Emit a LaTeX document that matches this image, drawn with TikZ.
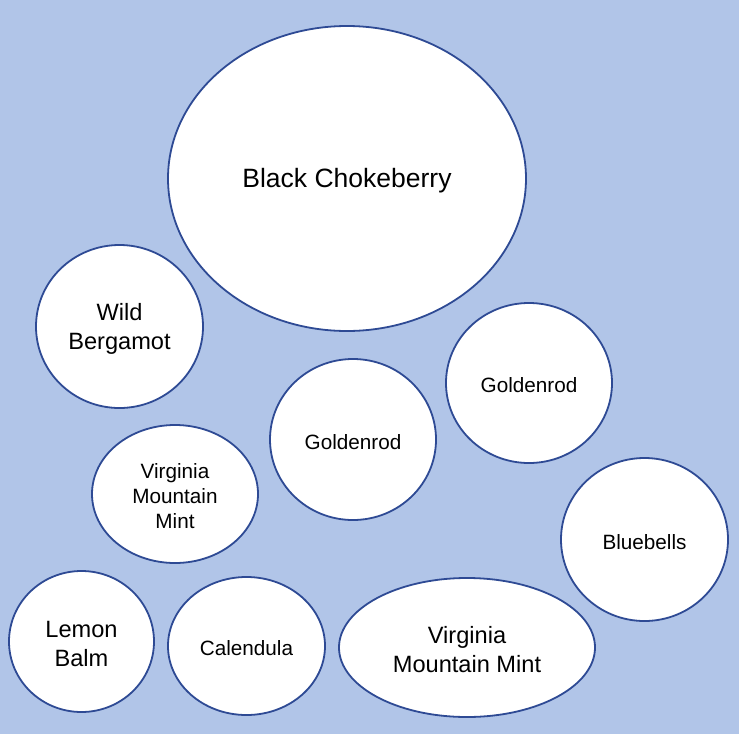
\documentclass[tikz,border=0pt]{standalone}
\usepackage{fontspec}
\setmainfont{Liberation Sans}
\usetikzlibrary{shapes.geometric}
\definecolor{bgblue}{HTML}{B1C5E8}
\definecolor{rimblue}{HTML}{2E4A94}
\tikzset{
  bubble/.style={ellipse, draw=rimblue, line width=1.8pt, fill=white, inner sep=0pt},
  lbl/.style={inner sep=0pt, align=center, text=black, yshift=-2.5pt},
  fbig/.style={font=\fontsize{26.5}{31}\selectfont},
  fmid/.style={font=\fontsize{23.6}{29}\selectfont},
  fsmall/.style={font=\fontsize{20.7}{25}\selectfont}
}
\begin{document}
\begin{tikzpicture}[x=1pt,y=-1pt]
\fill[bgblue] (0,0) rectangle (739,734);
\useasboundingbox (0,0) rectangle (739,734);
\node[bubble, minimum width=358pt, minimum height=305pt] (bc) at (347,178.5) {};
\node[bubble, minimum width=167pt, minimum height=163pt] (wb) at (119.5,326.5) {};
\node[bubble, minimum width=166pt, minimum height=161pt] (g1) at (353,439.5) {};
\node[bubble, minimum width=166pt, minimum height=160pt] (g2) at (529,383) {};
\node[bubble, minimum width=166pt, minimum height=138pt] (vm1) at (175,494) {};
\node[bubble, minimum width=167pt, minimum height=163pt] (bb) at (644.5,539.5) {};
\node[bubble, minimum width=145pt, minimum height=141pt] (lb) at (81.5,641.5) {};
\node[bubble, minimum width=157pt, minimum height=138pt] (ca) at (246.5,646) {};
\node[bubble, minimum width=256pt, minimum height=139pt] (vm2) at (467,647.5) {};
\node[lbl, fbig] (bct) at (bc.center) {Black Chokeberry};
\node[lbl, fmid] (wbt) at (wb.center) {Wild\\Bergamot};
\node[lbl, fsmall] (g1t) at (g1.center) {Goldenrod};
\node[lbl, fsmall] (g2t) at (g2.center) {Goldenrod};
\node[lbl, fsmall] (vm1t) at (vm1.center) {Virginia\\Mountain\\Mint};
\node[lbl, fsmall] (bbt) at (bb.center) {Bluebells};
\node[lbl, fmid] (lbt) at (lb.center) {Lemon\\Balm};
\node[lbl, fsmall] (cat) at (ca.center) {Calendula};
\node[lbl, fmid] (vm2t) at (vm2.center) {Virginia\\Mountain Mint};
\end{tikzpicture}
\end{document}
